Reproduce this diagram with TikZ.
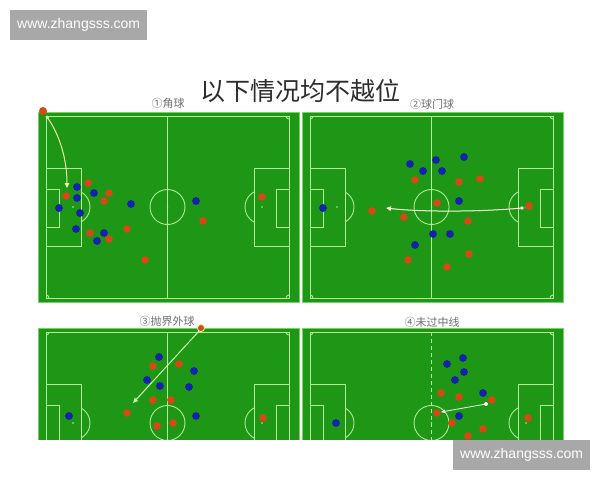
\documentclass[tikz,border=0pt]{standalone}
\usepackage{fontspec}
\newfontfamily\cjk{Noto Sans CJK SC}
\newfontfamily\wmfont{Liberation Sans}
\usetikzlibrary{arrows.meta}
\definecolor{grass}{RGB}{30,150,22}
\definecolor{grassedge}{RGB}{120,210,95}
\definecolor{pline}{RGB}{175,238,150}
\definecolor{bluep}{RGB}{20,36,170}
\definecolor{redp}{RGB}{210,74,22}
\definecolor{wmgray}{RGB}{168,168,168}
\definecolor{passc}{RGB}{235,245,170}
\definecolor{titlec}{RGB}{45,45,45}
\definecolor{labelc}{RGB}{110,110,110}
\tikzset{
  pass/.style={passc, line width=1pt, -{Triangle[length=5pt,width=4.5pt]}},
  panellabel/.style={labelc, font=\cjk\fontsize{11}{11}\selectfont, inner sep=0pt},
  wmbox/.style={fill=wmgray, text=white, font=\wmfont\fontsize{14}{14}\selectfont, minimum width=137pt, minimum height=30pt, inner sep=0pt}
}
\newcommand\pitch[3]{%
\begin{scope}[shift={(#1,#2)}]
  \fill[grass] (-8,-4) rectangle (253,186);
  \draw[grassedge, line width=0.8pt] (-8,-4) rectangle (253,186);
  \begin{scope}[pline, line width=0.9pt]
    \draw (0,0) rectangle (243,182);
    \draw[#3] (121.5,0) -- (121.5,182);
    \draw (121.5,91) circle (17.5pt);
    \fill (121.5,91) circle (0.9pt);
    \draw (0,52) rectangle (35,130);
    \draw (0,73) rectangle (13,111);
    \fill (27,91) circle (0.8pt);
    \draw (208,52) rectangle (243,130);
    \draw (230,73) rectangle (243,111);
    \fill (216,91) circle (0.8pt);
    \begin{scope}
      \clip (35,0) rectangle (70,182);
      \draw (27,91) circle (17pt);
    \end{scope}
    \begin{scope}
      \clip (170,0) rectangle (208,182);
      \draw (216,91) circle (17pt);
    \end{scope}
    \begin{scope}
      \clip (0,0) rectangle (243,182);
      \draw (0,0) circle (3pt);
      \draw (243,0) circle (3pt);
      \draw (0,182) circle (3pt);
      \draw (243,182) circle (3pt);
    \end{scope}
  \end{scope}
\end{scope}}
\newcommand\bp[2]{\fill[bluep] (#1,#2) circle (3.9pt);}
\newcommand\rp[2]{\fill[redp] (#1,#2) circle (3.9pt);}
\begin{document}
\begin{tikzpicture}[x=1pt,y=-1pt]
\useasboundingbox (0,0) rectangle (600,480);
\fill[white] (0,0) rectangle (600,480);

% title
\node[titlec, font=\cjk\fontsize{25}{25}\selectfont, inner sep=0pt] (title) at (300,91) {以下情况均不越位};

% labels
\node[panellabel] (l1) at (168,103) {①角球};
\node[panellabel] (l2) at (432,104) {②球门球};
\node[panellabel] (l3) at (167,321) {③抛界外球};
\node[panellabel] (l4) at (432,322) {④未过中线};

% panel 1
\pitch{46}{116}{}
\coordinate (c1s) at (47,117);
\coordinate (c1e) at (67,188);
\draw[pass] (c1s) .. controls (60,135) and (67,160) .. (c1e);
\fill[passc] (c1s) circle (1.6pt);
\fill[redp] (43,111) circle (4pt);
\bp{77}{187}\bp{94}{193}\bp{77}{198}\bp{59}{208}\bp{80}{213}
\bp{131}{204}\bp{76}{229}\bp{104}{233}\bp{97}{241}\bp{196}{201}
\rp{88}{183}\rp{66}{196}\rp{109}{193}\rp{104}{201}\rp{127}{229}
\rp{90}{233}\rp{109}{239}\rp{145}{260}\rp{203}{221}\rp{262}{197}

% panel 2
\pitch{310}{116}{}
\bp{410}{164}\bp{436}{160}\bp{464}{157}\bp{423}{171}\bp{442}{171}
\bp{459}{201}\bp{323}{208}\bp{433}{234}\bp{450}{234}\bp{415}{245}
\rp{415}{180}\rp{459}{182}\rp{480}{179}\rp{437}{203}\rp{372}{211}
\rp{404}{217}\rp{468}{221}\rp{529}{206}\rp{469}{254}\rp{408}{260}\rp{447}{267}
\coordinate (c2s) at (522,208);
\coordinate (c2e) at (386,208);
\draw[pass, passc!40!white] (c2s) .. controls (480,212) and (420,212) .. (c2e);
\fill[white] (c2s) circle (1.8pt);

% panels 3 and 4 (cropped)
\begin{scope}
\clip (0,0) rectangle (600,439);
\pitch{46}{332}{}
\bp{159}{357}\bp{194}{371}\bp{147}{380}\bp{160}{386}\bp{189}{387}
\bp{69}{416}\bp{196}{416}
\rp{153}{366}\rp{179}{364}\rp{153}{400}\rp{171}{400}\rp{127}{413}
\rp{157}{426}\rp{173}{423}\rp{263}{418}
\coordinate (c3s) at (200,330);
\coordinate (c3e) at (133,403);
\draw[pass, passc!70!green!60!white] (c3s) -- (c3e);
\fill[redp, draw=passc, line width=0.8pt] (201,328) circle (3.6pt);

\pitch{310}{332}{dash pattern=on 4pt off 3pt}
\bp{447}{364}\bp{463}{358}\bp{464}{372}\bp{455}{380}\bp{483}{393}
\bp{459}{416}\bp{336}{423}
\rp{441}{393}\rp{459}{397}\rp{492}{400}\rp{437}{413}\rp{452}{423}
\rp{483}{429}\rp{468}{436}\rp{528}{418}
\coordinate (c4s) at (486,404);
\coordinate (c4e) at (441,412);
\draw[white!90!green, line width=0.8pt, -{Triangle[length=4pt,width=3.5pt]}] (c4s) -- (c4e);
\fill[white] (c4s) circle (2pt);
\end{scope}

% watermarks
\node[wmbox, anchor=north west] (wm1) at (10,10) {www.zhangsss.com};
\node[wmbox, anchor=north west] (wm2) at (453,440) {www.zhangsss.com};
\end{tikzpicture}
\end{document}
